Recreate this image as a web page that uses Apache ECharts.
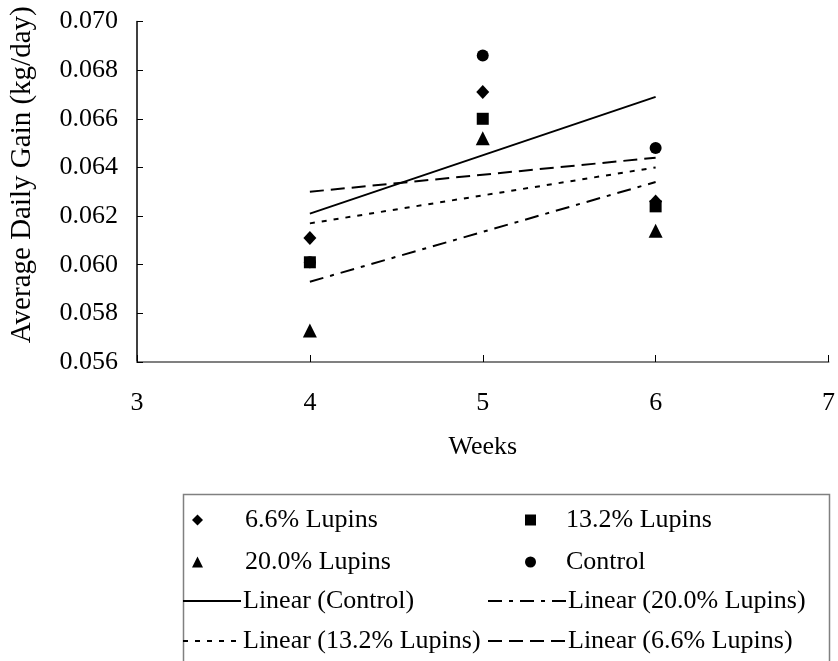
<!DOCTYPE html>
<html><head><meta charset="utf-8">
<script src="https://cdn.jsdelivr.net/npm/echarts@6/dist/echarts.min.js"></script>
<style>html,body{margin:0;padding:0;background:#fff}#c{width:838px;height:661px}</style>
</head><body><div id="c"></div>
<script>
// Data
const weeks = [4, 5, 6];
const lupins66 = [0.0611, 0.0671, 0.0626];
const lupins132 = [0.0601, 0.0660, 0.0624];
const lupins200 = [0.0573, 0.0652, 0.0614];
const control = [0.0601, 0.0686, 0.0648];
// Trend line end points (weeks 4 and 6)
const trendWeeks = [4, 6];
const trendControl = [0.0621, 0.0669];
const trend200 = [0.0593, 0.0634];
const trend132 = [0.0617, 0.0640];
const trend66 = [0.0630, 0.0644];
const xMin = 3, xMax = 7, xStep = 1;
const yMin = 0.056, yMax = 0.070, yStep = 0.002;

const pts = (xs, ys) => xs.map((x, i) => [x, ys[i]]);
const FONT = 'Liberation Serif';
const chart = echarts.init(document.getElementById('c'), null, {renderer: 'canvas'});

const markerLegend = (data, left, pad) => ({
  data, orient: 'vertical', left, top: 505, padding: 0, itemWidth: 11, itemHeight: 11, itemGap: 12,
  selectedMode: false,
  textStyle: {fontFamily: FONT, fontSize: 26, color: '#000', lineHeight: 30, padding: [0, 0, 0, pad]}
});
const lineLegend = (data, left, w) => ({
  data, orient: 'vertical', left, top: 586, padding: 0, itemWidth: w, itemHeight: 14, itemGap: 10,
  selectedMode: false, itemStyle: {opacity: 0},
  lineStyle: {width: 2, color: '#000'},
  textStyle: {fontFamily: FONT, fontSize: 26, color: '#000', lineHeight: 30, padding: [0, 0, 0, -3]}
});

chart.setOption({
  animation: false,
  backgroundColor: '#fff',
  grid: {left: 127, right: 8, top: 21.5, bottom: 299, containLabel: false},
  xAxis: {
    type: 'value', min: xMin, max: xMax, interval: xStep,
    name: 'Weeks', nameLocation: 'middle', nameGap: 72,
    nameTextStyle: {fontFamily: FONT, fontSize: 26, color: '#000'},
    axisLine: {lineStyle: {color: '#808080', width: 2}},
    axisTick: {inside: true, length: 7, lineStyle: {color: '#000', width: 1}},
    axisLabel: {fontFamily: FONT, fontSize: 26, color: '#000', margin: 28},
    splitLine: {show: false}
  },
  yAxis: {
    type: 'value', min: yMin, max: yMax, interval: yStep,
    name: 'Average Daily Gain (kg/day)', nameLocation: 'middle', nameGap: 100, nameRotate: 90,
    nameTextStyle: {fontFamily: FONT, fontSize: 29, color: '#000', padding: [0, 0, 0, 34]},
    axisLine: {show: true, lineStyle: {color: '#000', width: 1.5}},
    axisTick: {show: true, inside: true, length: 6, lineStyle: {color: '#000', width: 1}},
    axisLabel: {fontFamily: FONT, fontSize: 26, color: '#000', margin: 19,
      formatter: v => v.toFixed(3)},
    splitLine: {show: false}
  },
  legend: [
    markerLegend(['6.6% Lupins', '20.0% Lupins'], 192, 37),
    markerLegend(['13.2% Lupins', 'Control'], 525, 25),
    lineLegend(['Linear (Control)', 'Linear (13.2% Lupins)'], 182, 58),
    lineLegend(['Linear (20.0% Lupins)', 'Linear (6.6% Lupins)'], 487, 78)
  ],
  graphic: [{
    type: 'rect', left: 181, top: 492, silent: true,
    shape: {width: 646, height: 200},
    style: {fill: 'none', stroke: '#808080', lineWidth: 1.5}
  }],
  series: [
    {name: 'Control', type: 'scatter', symbol: 'circle', symbolSize: 12,
      itemStyle: {color: '#000', opacity: 1}, data: pts(weeks, control), z: 2},
    {name: '6.6% Lupins', type: 'scatter', symbol: 'diamond', symbolSize: [13, 14],
      itemStyle: {color: '#000', opacity: 1}, data: pts(weeks, lupins66), z: 3},
    {name: '13.2% Lupins', type: 'scatter', symbol: 'rect', symbolSize: 12,
      itemStyle: {color: '#000', opacity: 1}, data: pts(weeks, lupins132), z: 3},
    {name: '20.0% Lupins', type: 'scatter', symbol: 'triangle', symbolSize: [14, 14],
      itemStyle: {color: '#000', opacity: 1}, data: pts(weeks, lupins200), z: 3},
    {name: 'Linear (Control)', type: 'line', symbol: 'none', data: pts(trendWeeks, trendControl),
      lineStyle: {color: '#000', width: 2, type: 'solid'}, itemStyle: {color: '#000'}},
    {name: 'Linear (20.0% Lupins)', type: 'line', symbol: 'none', data: pts(trendWeeks, trend200),
      lineStyle: {color: '#000', width: 2, type: [14, 7, 4, 7]}, itemStyle: {color: '#000'}},
    {name: 'Linear (13.2% Lupins)', type: 'line', symbol: 'none', data: pts(trendWeeks, trend132),
      lineStyle: {color: '#000', width: 2, type: [5, 7]}, itemStyle: {color: '#000'}},
    {name: 'Linear (6.6% Lupins)', type: 'line', symbol: 'none', data: pts(trendWeeks, trend66),
      lineStyle: {color: '#000', width: 2, type: [14, 7]}, itemStyle: {color: '#000'}}
  ]
});
</script></body></html>
